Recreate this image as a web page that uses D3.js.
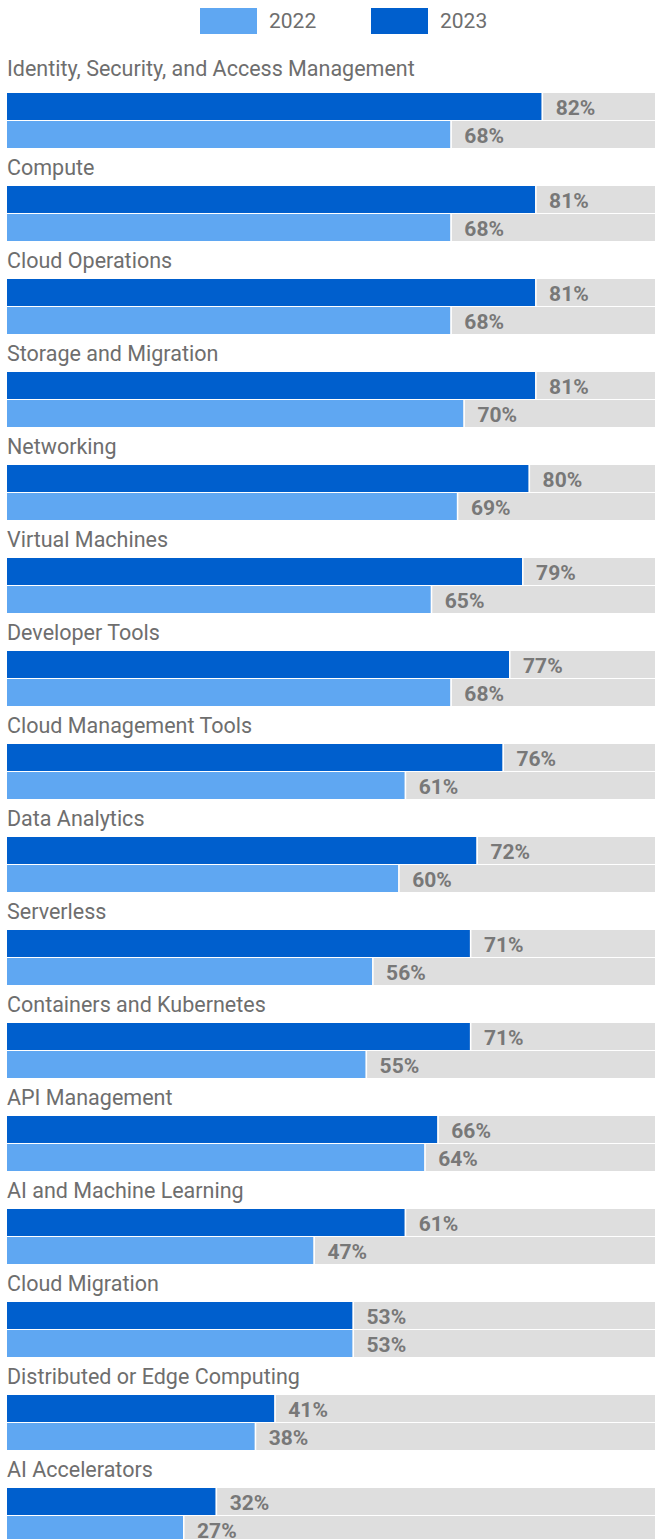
<!DOCTYPE html>
<html>
<head>
<meta charset="utf-8">
<script src="https://cdn.jsdelivr.net/npm/d3@7"></script>
<style>
  body { margin: 0; background: #fff; }
  svg { display: block; font-family: Roboto, "Noto Sans", sans-serif; }
</style>
</head>
<body>
<div id="chart"></div>
<script>
var categories = ["Identity, Security, and Access Management", "Compute", "Cloud Operations",
  "Storage and Migration", "Networking", "Virtual Machines", "Developer Tools",
  "Cloud Management Tools", "Data Analytics", "Serverless", "Containers and Kubernetes",
  "API Management", "AI and Machine Learning", "Cloud Migration",
  "Distributed or Edge Computing", "AI Accelerators"];
var values2023 = [82, 81, 81, 81, 80, 79, 77, 76, 72, 71, 71, 66, 61, 53, 41, 32];
var values2022 = [68, 68, 68, 70, 69, 65, 68, 61, 60, 56, 55, 64, 47, 53, 38, 27];
var seriesNames = ["2022", "2023"];
var seriesColors = ["#5FA7F2", "#005FCD"];

var width = 655, height = 1539;
var firstBar = 93, groupStep = 93, barH = 27;

var svg = d3.select("#chart").append("svg")
  .attr("width", width).attr("height", height);

var x = d3.scaleLinear().domain([0, 100]).range([7, 659]);

// legend
var legend = svg.append("g");
seriesNames.forEach(function(name, i) {
  var lx = 200 + i * 171;
  legend.append("rect").attr("x", lx).attr("y", 8).attr("width", 57).attr("height", 26)
    .attr("fill", seriesColors[i]);
  legend.append("text").attr("x", lx + 69).attr("y", 28)
    .attr("font-size", 21).attr("fill", "#6e6e6e").text(name);
});

var groups = svg.selectAll("g.grp")
  .data(categories)
  .enter().append("g").attr("class", "grp")
  .attr("transform", function(d, i) { return "translate(0," + (firstBar + i * groupStep) + ")"; });

// category labels (first one sits a little higher)
groups.append("text")
  .attr("x", 7).attr("y", function(d, i) { return i === 0 ? -17 : -11; })
  .attr("font-size", 21.5).attr("fill", "#6e6e6e")
  .text(function(d) { return d; });

var rows = [
  { vals: values2023, color: seriesColors[1], y: 0 },
  { vals: values2022, color: seriesColors[0], y: 28 }
];

rows.forEach(function(r) {
  groups.append("rect")
    .attr("x", x(0)).attr("y", r.y).attr("width", width - x(0)).attr("height", barH)
    .attr("fill", "#dedede");
  groups.append("rect")
    .attr("x", x(0)).attr("y", r.y)
    .attr("width", function(d, i) { return x(r.vals[i]) - x(0); })
    .attr("height", barH)
    .attr("fill", r.color);
  groups.append("rect")
    .attr("x", function(d, i) { return x(r.vals[i]); }).attr("y", r.y)
    .attr("width", 1.5).attr("height", barH)
    .attr("fill", "#fff");
  groups.append("text")
    .attr("x", function(d, i) { return x(r.vals[i]) + 14; })
    .attr("y", r.y + barH / 2 + 1)
    .attr("dy", "0.36em")
    .attr("font-size", 21).attr("font-weight", "bold").attr("fill", "#787878")
    .text(function(d, i) { return r.vals[i] + "%"; });
});
</script>
</body>
</html>
